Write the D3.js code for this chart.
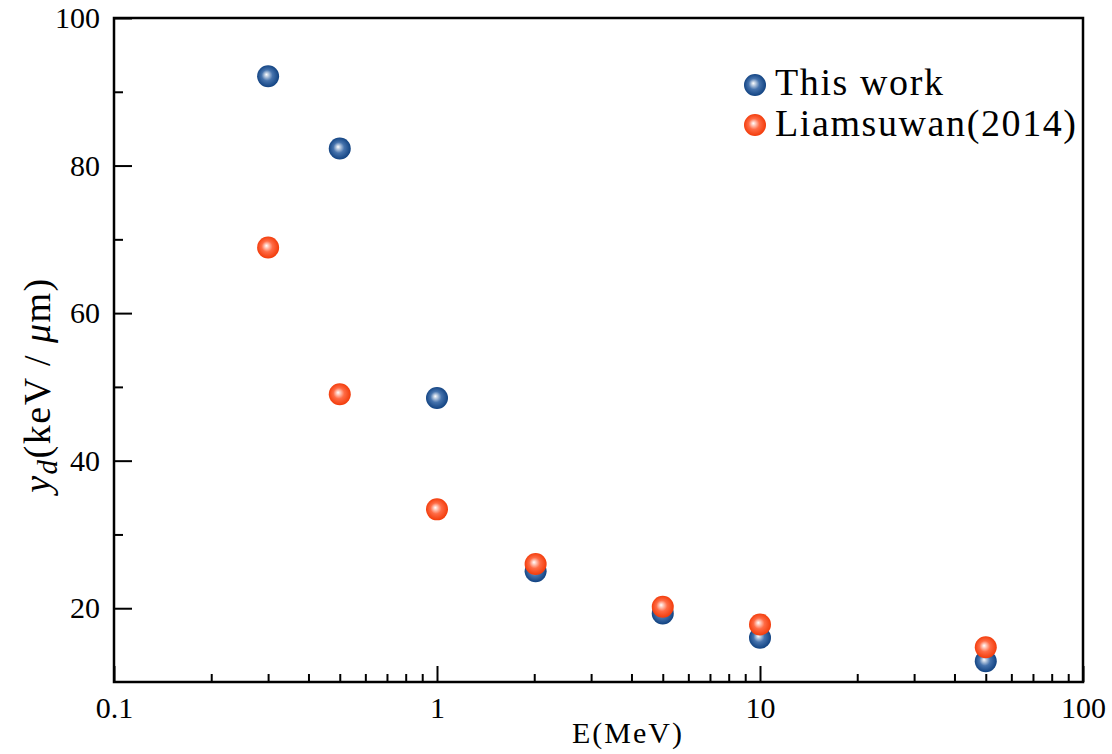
<!DOCTYPE html>
<html>
<head>
<meta charset="utf-8">
<script src="https://cdn.jsdelivr.net/npm/d3@7"></script>
<style>
  body { margin: 0; background: #fff; }
  text { font-family: "Liberation Serif", "DejaVu Serif", serif; fill: #000; }
  .tick text { font-size: 30px; }
</style>
</head>
<body>
<div id="chart"></div>
<script>
var chart_width = 1112;
var chart_height = 754;
var margin = {left: 114, right: 29, top: 18, bottom: 72};

// data
var energies = [0.3, 0.5, 1, 2.02, 5, 10, 50];
var this_work = [92.1, 82.3, 48.5, 25.0, 19.3, 16.0, 12.8];
var liamsuwan = [68.9, 49.0, 33.4, 26.0, 20.2, 17.8, 14.7];
var series_names = ['This work', 'Liamsuwan(2014)'];
var x_tick_labels = ['0.1', '1', '10', '100'];
var y_tick_labels = ['20', '40', '60', '80', '100'];

var svg = d3.select('#chart')
  .append('svg')
  .attr('width', chart_width)
  .attr('height', chart_height);

// gradients for the ball markers
var defs = svg.append('defs');
function ball(id, mid, edge) {
  var g = defs.append('radialGradient')
    .attr('id', id)
    .attr('cx', '0.5').attr('cy', '0.5').attr('r', '0.55')
    .attr('fx', '0.42').attr('fy', '0.42');
  g.append('stop').attr('offset', '0').attr('stop-color', '#ffffff');
  g.append('stop').attr('offset', '0.45').attr('stop-color', mid);
  g.append('stop').attr('offset', '1').attr('stop-color', edge);
}
ball('blue_ball', '#4673ad', '#083a7a');
ball('red_ball', '#ff6b45', '#f03300');

var x_scale = d3.scaleLog()
  .domain([0.1, 100])
  .range([margin.left, chart_width - margin.right]);

var y_scale = d3.scaleLinear()
  .domain([10, 100])
  .range([chart_height - margin.bottom, margin.top]);

var x0 = margin.left, x1 = chart_width - margin.right;
var y0 = chart_height - margin.bottom, y1 = margin.top;

function style_labels(g) {
  g.select('.domain').remove();
  g.attr('font-family', null).attr('font-size', null);
  g.selectAll('line').attr('stroke-width', 2);
}

// x axis: major and minor ticks pointing inward
var x_major = x_tick_labels.map(Number);
var x_minor = [];
[0.1, 1, 10].forEach(function(d) {
  for (var k = 2; k <= 9; k++) x_minor.push(d * k);
});

svg.append('g')
  .attr('transform', 'translate(0,' + y0 + ')')
  .call(d3.axisBottom(x_scale).tickValues(x_minor).tickSize(-8).tickFormat(''))
  .call(style_labels);

svg.append('g')
  .attr('transform', 'translate(0,' + y0 + ')')
  .call(d3.axisBottom(x_scale).tickValues(x_major).tickSize(-16).tickPadding(15)
    .tickFormat(function(d, i) { return x_tick_labels[i]; }))
  .call(style_labels);

// y axis
svg.append('g')
  .attr('transform', 'translate(' + x0 + ',0)')
  .call(d3.axisLeft(y_scale).tickValues([30, 50, 70, 90]).tickSize(-9).tickFormat(''))
  .call(style_labels);

svg.append('g')
  .attr('transform', 'translate(' + x0 + ',0)')
  .call(d3.axisLeft(y_scale).tickValues(y_tick_labels.map(Number)).tickSize(-18).tickPadding(14)
    .tickFormat(function(d, i) { return y_tick_labels[i]; }))
  .call(style_labels);

// frame
svg.append('rect')
  .attr('x', x0).attr('y', y1)
  .attr('width', x1 - x0).attr('height', y0 - y1)
  .attr('fill', 'none')
  .attr('stroke', '#000')
  .attr('stroke-width', 2.5);

// points
var sets = [
  {values: this_work, fill: 'url(#blue_ball)'},
  {values: liamsuwan, fill: 'url(#red_ball)'}
];
sets.forEach(function(s) {
  svg.append('g').selectAll('circle')
    .data(energies)
    .enter()
    .append('circle')
    .attr('cx', function(d) { return x_scale(d); })
    .attr('cy', function(d, i) { return y_scale(s.values[i]); })
    .attr('r', 11)
    .attr('fill', s.fill);
});

// legend
var legend = svg.append('g');
series_names.forEach(function(name, i) {
  legend.append('circle')
    .attr('cx', 755).attr('cy', 85 + i * 40)
    .attr('r', 11)
    .attr('fill', sets[i].fill);
  legend.append('text')
    .attr('x', 775).attr('y', 95 + i * 41)
    .attr('font-size', 38)
    .attr('letter-spacing', 1.6)
    .text(name);
});

// axis titles
svg.append('text')
  .attr('x', 628).attr('y', 743)
  .attr('text-anchor', 'middle')
  .attr('font-size', 30)
  .attr('letter-spacing', 2)
  .text('E(MeV)');

var yt = svg.append('text')
  .attr('transform', 'translate(50,385) rotate(-90)')
  .attr('text-anchor', 'middle')
  .attr('font-size', 38)
  .attr('letter-spacing', 1.5);
yt.append('tspan').attr('font-style', 'italic').text('y');
yt.append('tspan').attr('font-style', 'italic').attr('font-size', 29).attr('dy', 7).text('d');
yt.append('tspan').attr('dy', -7).text('(keV / ');
yt.append('tspan').attr('font-style', 'italic').text('μ');
yt.append('tspan').text('m)');
</script>
</body>
</html>
